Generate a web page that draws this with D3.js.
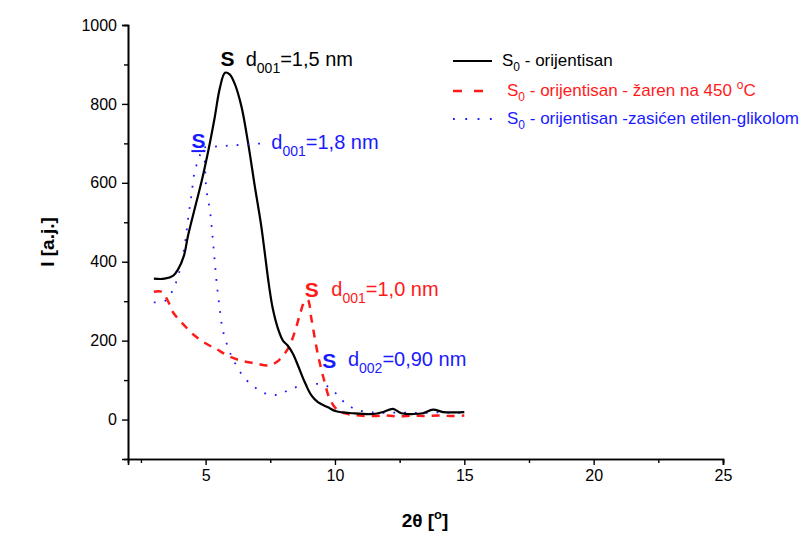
<!DOCTYPE html>
<html><head><meta charset="utf-8">
<script src="https://cdn.jsdelivr.net/npm/d3@7"></script>
<style>
body{margin:0;background:#fff;}
text{font-family:Arial,"Liberation Sans",sans-serif;}
</style></head>
<body><svg id="c" width="807" height="533"></svg>
<script>
// ---- data ----
const blackX=[3.0,3.41,3.75,3.93,4.16,4.32,4.6,4.85,5.1,5.35,5.55,5.75,5.93,6.12,6.38,6.64,6.9,7.15,7.45,7.6,7.8,7.99,8.18,8.38,8.57,8.83,9.09,9.34,9.73,10.05,10.7,11.47,11.86,12.24,12.57,13.02,13.4,13.79,14.18,14.6,15.0];
const blackY=[357,357,365,380,415,466,540,605,680,765,840,879,875,852,795,702,592,491,340,280,230,200,187,166,137,95,61,44,31,21,16,14,19,27,16,14,16,25,19,18,19];
const redX=[3.0,3.29,3.54,3.74,4.06,4.57,5.03,5.41,5.86,6.38,6.9,7.41,7.73,8.18,8.44,8.64,8.83,8.95,9.09,9.34,9.6,9.8,10.12,10.5,10.95,11.5,12.0,12.5,13.0,13.5,14.0,14.5,15.0];
const redY=[324,324,301,272,247,213,192,179,162,149,143,137,145,179,221,265,300,303,255,165,95,52,23,14,10,9,10,8,10,9,10,9,10];
const blueX=[3.0,3.44,3.74,3.9,4.03,4.21,4.32,4.45,4.57,4.77,4.9,5.03,5.18,5.27,5.35,5.44,5.54,5.67,5.99,6.19,6.48,6.9,7.35,7.8,8.25,8.7,9.15,9.6,9.99,10.38,10.83,11.5,12,12.5,13,13.5,14,14.5,15];
const blueY=[297,301,329,356,386,449,508,567,626,668,688,584,523,462,403,339,285,225,162,137,107,82,65,63,76,86,90,88,69,43,25,18,17,18,17,17,18,17,17];
const xTicks=[5,10,15,20,25];
const xMinor=[2.5,7.5,12.5,17.5,22.5];
const yTicks=[0,200,400,600,800,1000];
const yMinor=[100,300,500,700,900];
const seriesNames=["S|0| - orijentisan","S|0| - orijentisan - žaren na 450 |o|C","S|0| - orijentisan -zasićen etilen-glikolom"];
// annotation anchors in data units
const annS=[[5.58,896],[4.45,688],[8.83,310],[9.51,130]];
const annD=[[6.55,896,"001","=1,5 nm"],[7.54,685,"001","=1,8 nm"],[9.86,313,"001","=1,0 nm"],[10.5,136,"002","=0,90 nm"]];
const annColors=["#000","#1a1aff","#ff1a1a","#1a1aff"];
const leader=[[4.95,690],[7.2,700]];

const svg=d3.select("#c");
const x=d3.scaleLinear().domain([2,25]).range([128,723]);
const y=d3.scaleLinear().domain([-100,1000]).range([459,25]);

// axes
svg.append("g").attr("transform","translate(0,459)")
  .call(d3.axisBottom(x).tickValues(xTicks).tickSize(6).tickPadding(5).tickFormat(d3.format("d")));
svg.append("g").attr("transform","translate(0,459)")
  .call(d3.axisBottom(x).tickValues(xMinor).tickSize(4).tickFormat(""));
svg.append("g").attr("transform","translate(128,0)")
  .call(d3.axisLeft(y).tickValues(yTicks).tickSize(6).tickPadding(5).tickFormat(d3.format("d")));
svg.append("g").attr("transform","translate(128,0)")
  .call(d3.axisLeft(y).tickValues(yMinor).tickSize(4).tickFormat(""));
svg.selectAll(".domain").attr("stroke","#000").attr("stroke-width",1.6);
svg.selectAll(".tick line").attr("stroke","#000").attr("stroke-width",1.4);
svg.selectAll(".tick text").attr("font-size",16).attr("fill","#000").attr("font-family","Arial, 'Liberation Sans', sans-serif");

// axis titles
const xt=svg.append("text").attr("x",425).attr("y",527).attr("text-anchor","middle").attr("font-size",19).attr("font-weight","bold");
xt.append("tspan").text("2θ [");
xt.append("tspan").attr("dy",-8).attr("font-size",13).text("o");
xt.append("tspan").attr("dy",8).text("]");
svg.append("text").attr("transform","translate(54,242) rotate(-90)").attr("text-anchor","middle")
  .attr("font-size",19).attr("font-weight","bold").text("I [a.j.]");

// lines
const line=d3.line().x(d=>x(d[0])).y(d=>y(d[1])).curve(d3.curveCatmullRom.alpha(0.5));
const series=[
 {xs:blackX,ys:blackY,color:"#000",w:2.2,dash:null},
 {xs:redX,ys:redY,color:"#ff1a1a",w:2.5,dash:"8,7"},
 {xs:blueX,ys:blueY,color:"#1a1aff",w:1.8,dash:"1.8,9"}
];
series.slice().reverse().forEach(s=>{
  svg.append("path").datum(s.xs.map((v,i)=>[v,s.ys[i]]))
    .attr("d",line).attr("fill","none").attr("stroke",s.color)
    .attr("stroke-width",s.w).attr("stroke-dasharray",s.dash);
});

// leader line for blue peak
svg.append("path").datum(leader).attr("d",d3.line().x(d=>x(d[0])).y(d=>y(d[1])))
  .attr("fill","none").attr("stroke","#1a1aff").attr("stroke-width",1.8).attr("stroke-dasharray","1.8,9");

// annotations
annS.forEach((a,i)=>{
  svg.append("text").attr("x",x(a[0])).attr("y",y(a[1])).attr("font-size",21).attr("font-weight","bold")
    .attr("fill",annColors[i]).text("S");
});
svg.append("line").attr("x1",x(annS[1][0])).attr("x2",x(annS[1][0])+14).attr("y1",y(annS[1][1])+3).attr("y2",y(annS[1][1])+3)
  .attr("stroke","#1a1aff").attr("stroke-width",2);
annD.forEach((a,i)=>{
  const t=svg.append("text").attr("x",x(a[0])).attr("y",y(a[1])).attr("font-size",20).attr("fill",annColors[i]);
  t.append("tspan").text("d");
  t.append("tspan").attr("dy",7).attr("font-size",14).text(a[2]);
  t.append("tspan").attr("dy",-7).text(a[3]);
});

// legend
const legY=[61,91,119];
const legTextY=[66,96,124];
const legTextX=[502,507,507];
series.forEach((s,i)=>{
  svg.append("line").attr("x1",453).attr("x2",492).attr("y1",legY[i]).attr("y2",legY[i])
    .attr("stroke",s.color).attr("stroke-width",s.w)
    .attr("stroke-dasharray",i===1?"9,12":(i===2?"1.8,10.5":null));
  const parts=seriesNames[i].split("|");
  const t=svg.append("text").attr("x",legTextX[i]).attr("y",legTextY[i]).attr("font-size",17).attr("fill",s.color);
  t.append("tspan").text(parts[0]);
  t.append("tspan").attr("dy",5).attr("font-size",12).text(parts[1]);
  t.append("tspan").attr("dy",-5).text(parts[2]);
  if(parts.length>3){
    t.append("tspan").attr("dy",-7).attr("font-size",12).text(parts[3]);
    t.append("tspan").attr("dy",7).text(parts[4]);
  }
});
</script></body></html>
